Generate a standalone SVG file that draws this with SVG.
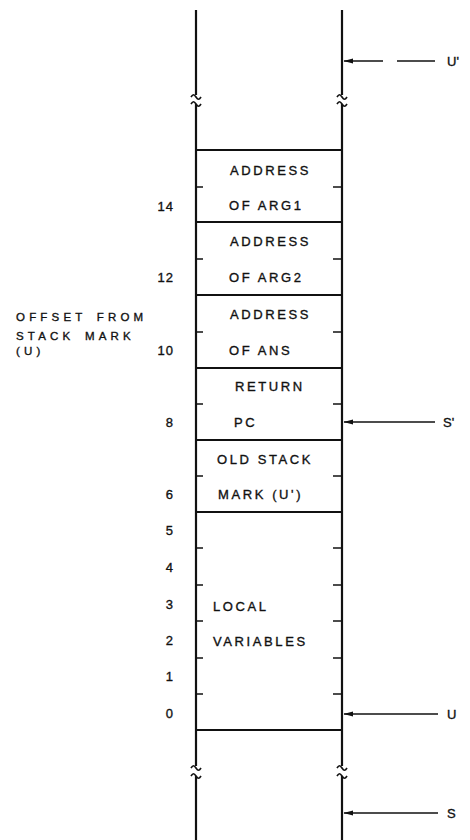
<svg xmlns="http://www.w3.org/2000/svg" width="470" height="840" viewBox="0 0 470 840">
<style>
.v{stroke:#111;stroke-width:2.2;fill:none}
.h{stroke:#111;stroke-width:2.2;fill:none}
.tk{stroke:#111;stroke-width:1.5;fill:none}
.br{stroke:#111;stroke-width:1.7;fill:none}
.ar{stroke:#111;stroke-width:1.3;fill:none}
text{font-family:"Liberation Sans",Arial,sans-serif;fill:#111;stroke:#111;stroke-width:0.35}
.cell{font-size:13px;letter-spacing:2.6px}
.num{font-size:13px;text-anchor:end;letter-spacing:1px}
.side{font-size:11.5px;letter-spacing:4.2px;word-spacing:3px}
.lbl{font-size:13px}
</style>
<defs>
<marker id="ah" markerWidth="10" markerHeight="6" refX="9" refY="3" orient="auto" markerUnits="userSpaceOnUse">
<path d="M0,0.5 L9.5,3 L0,5.5 z" fill="#111"/>
</marker>
</defs>

<g id="stack-column">
<line class="v" x1="196" y1="10" x2="196" y2="95"/>
<line class="v" x1="342" y1="10" x2="342" y2="95"/>
<path class="br" d="M191,97 c2,-3 3,-3 5,0 s3,3 5,0"/>
<path class="br" d="M337,97 c2,-3 3,-3 5,0 s3,3 5,0"/>
<path class="br" d="M191,104 c2,-3 3,-3 5,0 s3,3 5,0"/>
<path class="br" d="M337,104 c2,-3 3,-3 5,0 s3,3 5,0"/>
<line class="v" x1="196" y1="104" x2="196" y2="766"/>
<line class="v" x1="342" y1="104" x2="342" y2="766"/>
<path class="br" d="M191,768 c2,-3 3,-3 5,0 s3,3 5,0"/>
<path class="br" d="M337,768 c2,-3 3,-3 5,0 s3,3 5,0"/>
<path class="br" d="M191,776 c2,-3 3,-3 5,0 s3,3 5,0"/>
<path class="br" d="M337,776 c2,-3 3,-3 5,0 s3,3 5,0"/>
<line class="v" x1="196" y1="776" x2="196" y2="840"/>
<line class="v" x1="342" y1="776" x2="342" y2="840"/>
</g>

<g id="cell-arg1">
<line class="h" x1="196" y1="150" x2="342" y2="150"/>
<line class="tk" x1="196" y1="187" x2="203" y2="187"/>
<line class="tk" x1="333" y1="187" x2="342" y2="187"/>
<text class="cell" x="230" y="175">ADDRESS</text>
<text class="cell" x="229" y="210">OF ARG1</text>
<text class="num" x="174" y="211">14</text>
</g>

<g id="cell-arg2">
<line class="h" x1="196" y1="222" x2="342" y2="222"/>
<line class="tk" x1="196" y1="259" x2="203" y2="259"/>
<line class="tk" x1="333" y1="259" x2="342" y2="259"/>
<text class="cell" x="230" y="246">ADDRESS</text>
<text class="cell" x="229" y="282">OF ARG2</text>
<text class="num" x="174" y="282">12</text>
</g>

<g id="cell-ans">
<line class="h" x1="196" y1="295" x2="342" y2="295"/>
<line class="tk" x1="196" y1="332" x2="203" y2="332"/>
<line class="tk" x1="333" y1="332" x2="342" y2="332"/>
<text class="cell" x="230" y="319">ADDRESS</text>
<text class="cell" x="229" y="355">OF ANS</text>
<text class="num" x="174" y="355">10</text>
</g>

<g id="cell-return-pc">
<line class="h" x1="196" y1="368" x2="342" y2="368"/>
<line class="tk" x1="196" y1="404" x2="203" y2="404"/>
<line class="tk" x1="333" y1="404" x2="342" y2="404"/>
<text class="cell" x="235" y="391">RETURN</text>
<text class="cell" x="234" y="427">PC</text>
<text class="num" x="174" y="427">8</text>
</g>

<g id="cell-old-stack-mark">
<line class="h" x1="196" y1="440" x2="342" y2="440"/>
<line class="tk" x1="196" y1="476" x2="203" y2="476"/>
<line class="tk" x1="333" y1="476" x2="342" y2="476"/>
<text class="cell" x="217" y="464">OLD STACK</text>
<text class="cell" x="218" y="499">MARK (U')</text>
<text class="num" x="174" y="499">6</text>
</g>

<g id="cell-local-variables">
<line class="h" x1="196" y1="512" x2="342" y2="512"/>
<line class="tk" x1="196" y1="548" x2="203" y2="548"/>
<line class="tk" x1="333" y1="548" x2="342" y2="548"/>
<line class="tk" x1="196" y1="585" x2="203" y2="585"/>
<line class="tk" x1="333" y1="585" x2="342" y2="585"/>
<line class="tk" x1="196" y1="621" x2="203" y2="621"/>
<line class="tk" x1="333" y1="621" x2="342" y2="621"/>
<line class="tk" x1="196" y1="658" x2="203" y2="658"/>
<line class="tk" x1="333" y1="658" x2="342" y2="658"/>
<line class="tk" x1="196" y1="694" x2="203" y2="694"/>
<line class="tk" x1="333" y1="694" x2="342" y2="694"/>
<line class="h" x1="196" y1="730" x2="342" y2="730"/>
<text class="cell" x="213" y="611">LOCAL</text>
<text class="cell" x="213" y="646">VARIABLES</text>
<text class="num" x="174" y="535">5</text>
<text class="num" x="174" y="572">4</text>
<text class="num" x="174" y="609">3</text>
<text class="num" x="174" y="645">2</text>
<text class="num" x="174" y="681">1</text>
<text class="num" x="174" y="718">0</text>
</g>

<g id="offset-label">
<text class="side" x="16" y="321">OFFSET FROM</text>
<text class="side" x="16" y="340">STACK MARK</text>
<text class="side" x="16" y="355">(U)</text>
</g>

<g id="connectors">
<line class="ar" x1="383" y1="61" x2="344" y2="61" marker-end="url(#ah)"/>
<line class="ar" x1="397" y1="61" x2="435" y2="61"/>
<line class="ar" x1="435" y1="422" x2="344" y2="422" marker-end="url(#ah)"/>
<line class="ar" x1="438" y1="714" x2="344" y2="714" marker-end="url(#ah)"/>
<line class="ar" x1="438" y1="813" x2="344" y2="813" marker-end="url(#ah)"/>
</g>

<g id="pointer-labels">
<text class="lbl" x="447" y="66">U'</text>
<text class="lbl" x="443" y="427">S'</text>
<text class="lbl" x="447" y="719">U</text>
<text class="lbl" x="447" y="818">S</text>
</g>
</svg>
